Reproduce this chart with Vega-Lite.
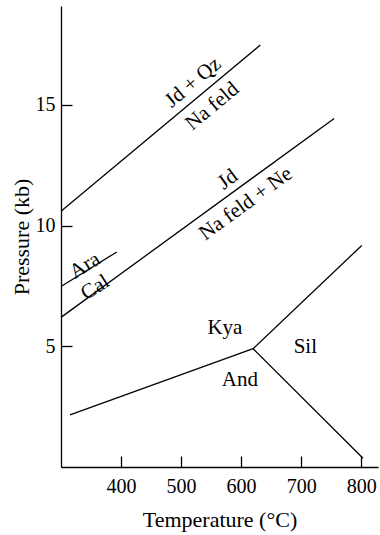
{
  "$schema": "https://vega.github.io/schema/vega-lite/v6.json",
  "width": 317,
  "height": 461,
  "autosize": {"type": "none"},
  "padding": {"left": 61, "top": 6, "right": 2, "bottom": 68},
  "background": "white",
  "config": {
    "view": {"stroke": null},
    "font": "Liberation Serif",
    "axis": {
      "grid": false,
      "domainColor": "black",
      "domainWidth": 1.3,
      "tickColor": "black",
      "tickWidth": 1.3,
      "tickSize": -11,
      "labelFont": "Liberation Serif",
      "labelFontSize": 20,
      "labelColor": "black",
      "titleFont": "Liberation Serif",
      "titleFontSize": 22,
      "titleFontWeight": "normal",
      "titleColor": "black"
    }
  },
  "datasets": {
    "boundaries": [
      {"seg": "jd_qz", "T": 300, "P": 10.6},
      {"seg": "jd_qz", "T": 632, "P": 17.48},
      {"seg": "jd_ne", "T": 300, "P": 6.2},
      {"seg": "jd_ne", "T": 755, "P": 14.44},
      {"seg": "ara_cal", "T": 300, "P": 7.48},
      {"seg": "ara_cal", "T": 393, "P": 8.91},
      {"seg": "kya_and", "T": 315, "P": 2.16},
      {"seg": "kya_and", "T": 620, "P": 4.9},
      {"seg": "kya_sil", "T": 620, "P": 4.9},
      {"seg": "kya_sil", "T": 801, "P": 9.18},
      {"seg": "and_sil", "T": 620, "P": 4.9},
      {"seg": "and_sil", "T": 803, "P": 0.36}
    ],
    "fields": [
      {"label": "Jd + Qz", "T": 520, "P": 15.93, "group": "upper"},
      {"label": "Na feld", "T": 552, "P": 14.94, "group": "upper"},
      {"label": "Jd", "T": 578, "P": 11.91, "group": "middle"},
      {"label": "Na feld + Ne", "T": 608, "P": 10.91, "group": "middle"},
      {"label": "Ara", "T": 340, "P": 8.34, "group": "lower"},
      {"label": "Cal", "T": 357, "P": 7.43, "group": "lower"},
      {"label": "Kya", "T": 573, "P": 5.77, "group": "flat"},
      {"label": "Sil", "T": 707, "P": 4.98, "group": "flat"},
      {"label": "And", "T": 598, "P": 3.61, "group": "flat"}
    ]
  },
  "encoding": {
    "x": {
      "field": "T",
      "type": "quantitative",
      "scale": {"domain": [300, 828], "nice": false, "zero": false},
      "axis": {"values": [400, 500, 600, 700, 800], "title": "Temperature (°C)", "labelPadding": 20, "titlePadding": 13}
    },
    "y": {
      "field": "P",
      "type": "quantitative",
      "scale": {"domain": [0, 19.1], "nice": false},
      "axis": {"values": [5, 10, 15], "title": "Pressure (kb)", "labelPadding": 17, "titlePadding": 2}
    }
  },
  "layer": [
    {
      "data": {"name": "boundaries"},
      "mark": {"type": "line", "color": "black", "strokeWidth": 1.3},
      "encoding": {"detail": {"field": "seg"}}
    },
    {
      "data": {"name": "fields"},
      "transform": [{"filter": "datum.group === 'upper'"}],
      "mark": {"type": "text", "fontSize": 21, "angle": 320, "align": "center", "baseline": "middle", "color": "black"},
      "encoding": {"text": {"field": "label"}}
    },
    {
      "data": {"name": "fields"},
      "transform": [{"filter": "datum.group === 'middle'"}],
      "mark": {"type": "text", "fontSize": 21, "angle": 324, "align": "center", "baseline": "middle", "color": "black"},
      "encoding": {"text": {"field": "label"}}
    },
    {
      "data": {"name": "fields"},
      "transform": [{"filter": "datum.group === 'lower'"}],
      "mark": {"type": "text", "fontSize": 21, "angle": 328, "align": "center", "baseline": "middle", "color": "black"},
      "encoding": {"text": {"field": "label"}}
    },
    {
      "data": {"name": "fields"},
      "transform": [{"filter": "datum.group === 'flat'"}],
      "mark": {"type": "text", "fontSize": 21, "align": "center", "baseline": "middle", "color": "black"},
      "encoding": {"text": {"field": "label"}}
    }
  ]
}
